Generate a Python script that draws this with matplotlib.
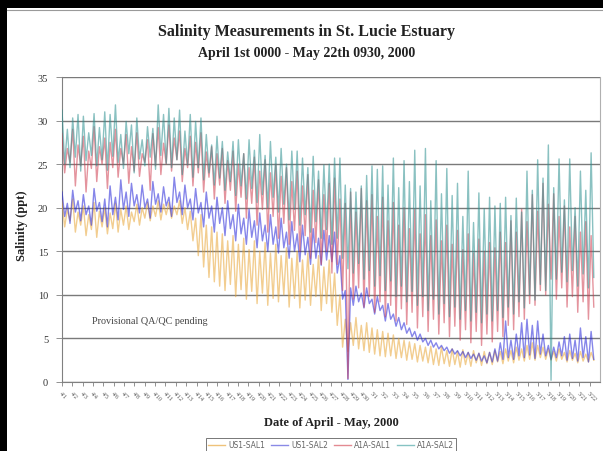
import numpy as np
import matplotlib
matplotlib.use("Agg")
import matplotlib.pyplot as plt
from matplotlib.patches import Rectangle
from matplotlib.lines import Line2D

# ---------------- data (tidal highs / lows per cycle) ----------------
SPAN_DAYS = 51.4  # April 1st 0000 - May 22nd 0930

us1_sal1_high = [20.8, 19.8, 21.0, 19.5, 20.2, 19.2, 20.6, 19.6, 20.0, 19.4,
                 20.5, 19.8, 20.2, 19.5, 20.4, 20.0, 20.6, 20.2, 20.8, 20.4,
                 20.6, 20.2, 20.8, 20.0, 19.6, 18.8, 19.2, 18.0, 17.8, 17.2,
                 17.0, 16.2, 16.8, 15.8, 16.5, 15.2, 16.2, 15.0, 16.0, 14.8,
                 15.8, 14.5, 15.4, 14.2, 15.0, 14.0, 14.8, 13.5, 14.5, 13.2,
                 14.0, 12.5, 10.0, 7.2, 6.8, 7.4, 6.5, 6.8, 6.2, 6.0,
                 5.8, 5.6, 5.4, 5.0, 4.8, 4.6, 4.4, 4.2, 4.0, 4.1,
                 3.8, 4.0, 3.6, 3.8, 3.5, 3.7, 3.4, 3.6, 3.3, 3.5,
                 3.4, 3.6, 3.5, 3.8, 3.6, 4.0, 3.8, 4.2, 4.5, 4.2,
                 4.0, 3.8, 3.5, 3.8, 3.4, 3.6, 3.3, 3.5, 3.2, 3.4]
us1_sal1_low = [17.8, 18.5, 17.2, 18.0, 16.8, 17.5, 16.6, 17.8, 17.0, 17.6,
                17.2, 18.0, 17.5, 18.4, 18.0, 18.8, 18.5, 19.0, 18.6, 19.2,
                18.8, 19.2, 18.2, 17.5, 16.2, 14.5, 13.2, 12.0, 11.5, 11.0,
                10.5, 11.2, 9.8, 10.6, 9.5, 10.4, 9.0, 10.2, 8.8, 9.6,
                9.2, 10.0, 8.6, 9.6, 8.5, 9.4, 8.8, 9.8, 8.2, 9.0,
                8.0, 6.5, 4.0, 3.5, 4.2, 3.8, 3.6, 3.4, 3.2, 3.0,
                2.9, 3.0, 2.7, 2.8, 2.5, 2.6, 2.3, 2.4, 2.2, 2.0,
                1.9, 2.1, 1.8, 2.0, 1.7, 2.0, 1.8, 2.2, 1.9, 2.1,
                2.0, 2.3, 2.1, 2.4, 2.2, 2.5, 2.4, 2.6, 2.5, 2.8,
                2.6, 2.5, 2.4, 2.6, 2.3, 2.5, 2.2, 2.4, 2.3, 2.5]

us1_sal2_high = [21.8, 20.5, 22.0, 20.8, 21.5, 20.2, 22.2, 20.6, 21.0, 22.5,
                 21.2, 23.2, 21.8, 22.8, 21.5, 22.6, 21.0, 23.0, 21.6, 22.4,
                 21.2, 23.5, 21.8, 22.6, 21.0, 22.2, 20.6, 21.8, 20.2, 21.2,
                 20.0, 20.8, 19.2, 20.4, 18.8, 19.8, 18.5, 19.4, 18.0, 19.2,
                 17.8, 18.8, 17.2, 18.4, 17.0, 18.0, 16.6, 17.6, 16.5, 17.4,
                 16.8, 17.2, 14.5, 10.5, 10.8, 11.0, 10.2, 10.8, 9.5, 9.8,
                 8.8, 9.0, 7.8, 7.4, 6.8, 6.2, 5.8, 5.5, 5.0, 4.8,
                 4.5, 4.2, 4.0, 3.8, 3.6, 3.5, 3.4, 3.2, 3.3, 3.0,
                 3.4, 3.8, 4.5, 7.0, 4.8, 5.5, 6.8, 7.2, 6.5, 7.0,
                 5.5, 4.2, 4.0, 4.6, 5.2, 5.5, 4.8, 6.2, 5.2, 5.8]
us1_sal2_low = [19.0, 18.2, 19.5, 18.5, 19.2, 18.0, 19.6, 18.4, 17.8, 19.2,
                18.6, 19.8, 19.0, 20.2, 19.4, 20.0, 18.8, 20.4, 19.5, 20.2,
                19.0, 20.6, 19.2, 20.0, 18.6, 19.4, 17.8, 18.8, 17.2, 18.2,
                16.8, 17.6, 16.2, 17.0, 15.8, 16.6, 15.4, 16.2, 15.0, 15.8,
                14.8, 15.4, 14.2, 15.0, 13.8, 14.6, 13.5, 14.2, 13.4, 14.0,
                13.8, 12.5, 9.5, 0.3, 8.8, 9.2, 8.5, 9.0, 7.8, 8.2,
                7.0, 7.2, 6.4, 6.0, 5.6, 5.2, 4.8, 4.6, 4.2, 4.0,
                3.8, 3.6, 3.3, 3.2, 3.0, 2.8, 2.7, 2.5, 2.4, 2.2,
                2.3, 2.4, 2.6, 2.8, 2.6, 3.0, 2.8, 3.1, 2.7, 3.2,
                3.0, 2.6, 2.8, 3.0, 2.5, 2.7, 2.4, 2.8, 2.3, 2.6]

a1a_sal1_high = [28.5, 26.8, 29.0, 27.2, 28.2, 26.5, 29.3, 27.0, 28.0, 27.5,
                 29.0, 26.8, 28.4, 27.0, 28.6, 26.2, 27.8, 28.5, 29.2, 27.4,
                 29.5, 28.0, 28.8, 26.8, 28.2, 27.5, 28.6, 26.4, 27.0, 26.2,
                 26.8, 25.4, 26.5, 25.0, 26.2, 24.6, 25.8, 24.2, 25.5, 24.0,
                 25.0, 23.6, 24.6, 23.0, 24.2, 22.5, 23.8, 22.0, 23.2, 21.5,
                 22.8, 23.4, 21.0, 20.5, 21.8, 19.5, 22.2, 20.8, 21.5, 19.0,
                 21.2, 18.5, 20.6, 18.0, 20.0, 17.6, 19.8, 17.0, 19.2, 16.8,
                 18.6, 16.2, 18.0, 15.8, 17.4, 15.2, 17.0, 14.8, 16.4, 15.0,
                 16.0, 15.4, 17.2, 16.0, 18.5, 17.2, 19.8, 18.4, 21.5, 19.6,
                 22.8, 20.4, 21.6, 19.0, 20.2, 17.8, 19.0, 17.2, 18.4, 16.8]
a1a_sal1_low = [24.0, 25.2, 22.5, 24.8, 21.8, 24.5, 23.0, 25.0, 22.2, 24.6,
                23.5, 25.0, 22.8, 24.2, 23.6, 25.2, 22.0, 24.8, 23.8, 25.0,
                24.2, 25.5, 23.0, 24.6, 22.5, 24.0, 21.8, 23.5, 21.0, 22.6,
                20.5, 22.0, 19.6, 21.2, 18.8, 20.5, 18.0, 19.8, 17.2, 19.0,
                16.5, 18.2, 15.8, 17.4, 15.0, 16.8, 14.2, 16.0, 13.5, 15.0,
                12.5, 13.5, 10.5, 0.4, 9.5, 10.8, 8.6, 9.8, 8.0, 9.2,
                7.5, 8.8, 7.0, 8.4, 6.6, 8.0, 6.2, 7.5, 5.8, 7.2,
                5.5, 6.8, 5.2, 6.4, 4.8, 6.0, 4.5, 5.8, 4.2, 5.5,
                4.6, 5.8, 5.2, 6.5, 6.0, 7.5, 7.2, 9.0, 8.8, 10.5,
                10.0, 11.8, 9.5, 10.8, 8.6, 9.8, 8.0, 9.2, 7.2, 8.6]

a1a_sal2_high = [31.2, 29.0, 30.3, 30.7, 30.5, 28.6, 30.8, 29.2, 31.0, 30.7,
                 31.8, 28.4, 29.9, 29.5, 30.3, 27.8, 29.3, 29.1, 31.8, 30.7,
                 31.4, 30.3, 31.2, 28.8, 30.7, 29.9, 30.3, 28.4, 27.2, 28.2,
                 27.6, 26.4, 27.6, 27.8, 26.2, 27.8, 26.6, 28.4, 26.0, 27.6,
                 25.8, 26.8, 25.0, 26.5, 26.5, 25.7, 24.6, 25.9, 24.2, 24.9,
                 25.0, 25.7, 25.7, 22.6, 22.2, 21.8, 22.5, 23.7, 24.8, 24.4,
                 24.8, 22.6, 25.7, 22.3, 25.4, 23.0, 26.6, 22.5, 26.8, 20.8,
                 25.4, 21.6, 24.5, 21.4, 22.8, 19.0, 24.2, 18.3, 21.7, 19.9,
                 21.2, 20.2, 20.5, 21.2, 19.1, 21.1, 19.5, 24.2, 22.0, 25.5,
                 23.4, 27.2, 22.3, 25.6, 20.9, 25.6, 20.0, 24.2, 22.0, 26.3]
a1a_sal2_low = [25.0, 24.6, 25.8, 24.2, 25.4, 26.0, 24.8, 25.5, 24.3, 25.9,
                25.2, 24.5, 26.2, 24.0, 25.6, 24.8, 25.8, 24.4, 26.0, 25.1,
                24.6, 25.5, 23.8, 24.9, 23.5, 24.6, 23.2, 24.0, 22.6, 23.4,
                22.0, 23.0, 21.4, 22.5, 21.0, 22.2, 20.6, 21.5, 20.0, 21.2,
                19.5, 20.4, 18.6, 19.8, 18.0, 19.2, 17.2, 18.4, 16.5, 17.5,
                15.8, 16.5, 14.2, 13.0, 12.5, 13.6, 11.8, 12.8, 11.0, 12.2,
                10.5, 11.6, 9.8, 11.0, 9.2, 10.4, 8.8, 9.8, 8.2, 9.5,
                7.8, 9.0, 7.5, 8.6, 7.2, 8.2, 7.0, 8.0, 6.8, 7.8,
                7.0, 8.2, 7.4, 8.6, 7.8, 9.2, 8.5, 10.0, 9.4, 11.2,
                10.5, 0.2, 11.8, 12.6, 11.5, 12.8, 11.0, 12.4, 10.8, 12.0]

series_names = ["US1-SAL1", "US1-SAL2", "A1A-SAL1", "A1A-SAL2"]
date_labels = [f"4/{d}" for d in range(1, 31)] + [f"5/{d}" for d in range(1, 23)]

# ---------------- styling ----------------
colors = ["#e8a535", "#2323d8", "#cf3d4f", "#2a8f8f"]
legend_colors = ["#efc27a", "#8a8ae6", "#e38a92", "#86c3c3"]
SERIF = ["Liberation Serif", "DejaVu Serif"]

def build(highs, lows):
    vals = np.column_stack([highs, lows]).ravel()
    n = len(vals)
    t = np.arange(n) * SPAN_DAYS / (n - 1)
    return t, vals

fig = plt.figure(figsize=(6.03, 4.52), dpi=100)
fig.patch.set_facecolor("white")

# black outer frame (top and left) + thin grey border
fig.patches.append(Rectangle((0, 1 - 9 / 452), 1, 9 / 452, transform=fig.transFigure,
                             facecolor="black", edgecolor="none", zorder=0))
fig.patches.append(Rectangle((0, 0), 7 / 603, 1, transform=fig.transFigure,
                             facecolor="black", edgecolor="none", zorder=0))
fig.add_artist(Line2D([7 / 603, 1], [1 - 10.5 / 452] * 2, transform=fig.transFigure,
                      color="#9a9a9a", lw=0.8))

ax = fig.add_axes([62 / 603, (452 - 383) / 452, (600 - 62) / 603, (383 - 78) / 452])

data = [(us1_sal1_high, us1_sal1_low), (us1_sal2_high, us1_sal2_low),
        (a1a_sal1_high, a1a_sal1_low), (a1a_sal2_high, a1a_sal2_low)]
for (h, l), c, name in zip(data, colors, series_names):
    t, v = build(h, l)
    ax.plot(t, v, color=c, lw=1.0, alpha=0.55, label=name, zorder=3)

ax.set_xlim(0, 52.0)
ax.set_ylim(0, 35)
ax.set_yticks(np.arange(0, 36, 5))
ax.set_yticklabels([str(v) for v in range(0, 36, 5)], fontfamily=SERIF, fontsize=7.5, color="#333333")
ax.yaxis.grid(True, color="#7a7a7a", lw=1.0, zorder=1)
ax.set_axisbelow(True)

ax.set_xticks(np.arange(len(date_labels)))
ax.set_xticklabels(date_labels, rotation=-45, ha="left", va="top", rotation_mode="anchor",
                   fontfamily=SERIF, fontsize=4.5, color="#555555")
ax.tick_params(axis="x", length=3, width=0.6, color="#808080", pad=3)
ax.tick_params(axis="y", length=4, width=0.6, color="#808080", pad=6)

ax.spines["top"].set_visible(False)
ax.spines["left"].set_color("#808080")
ax.spines["bottom"].set_color("#808080")
ax.spines["right"].set_color("#b0b0b0")
ax.spines["right"].set_linewidth(0.8)

ax.text(0.055, 0.2, "Provisional QA/QC pending", transform=ax.transAxes,
        fontfamily=SERIF, fontsize=7.3, color="#444444", va="center")

fig.text(0.509, 1 - 32 / 452, "Salinity Measurements in St. Lucie Estuary", ha="center", va="center",
         fontfamily=SERIF, fontweight="bold", fontsize=11.5, color="#222222")
fig.text(0.509, 1 - 53 / 452, "April 1st 0000 - May 22th 0930, 2000", ha="center", va="center",
         fontfamily=SERIF, fontweight="bold", fontsize=10, color="#222222")
fig.text(22 / 603, 1 - 226 / 452, "Salinity (ppt)", rotation=90, ha="center", va="center",
         fontfamily=SERIF, fontweight="bold", fontsize=9, color="#222222")
fig.text(331 / 603, 1 - 423 / 452, "Date of April - May, 2000", ha="center", va="center",
         fontfamily=SERIF, fontweight="bold", fontsize=9, color="#222222")

handles = [Line2D([0], [0], color=c, lw=1.0) for c in legend_colors]
leg = fig.legend(handles, series_names, loc="center", bbox_to_anchor=(331 / 603, 6 / 452),
                 ncol=4, frameon=True, fancybox=False, handlelength=2.2,
                 handletextpad=0.4, columnspacing=0.8, borderpad=0.35,
                 prop={"family": ["DejaVu Sans"], "size": 5.5})
leg.get_frame().set_edgecolor("#555555")
leg.get_frame().set_linewidth(0.7)
for txt in leg.get_texts():
    txt.set_color("#666666")

fig.savefig("out.png", dpi=100, facecolor="white")
